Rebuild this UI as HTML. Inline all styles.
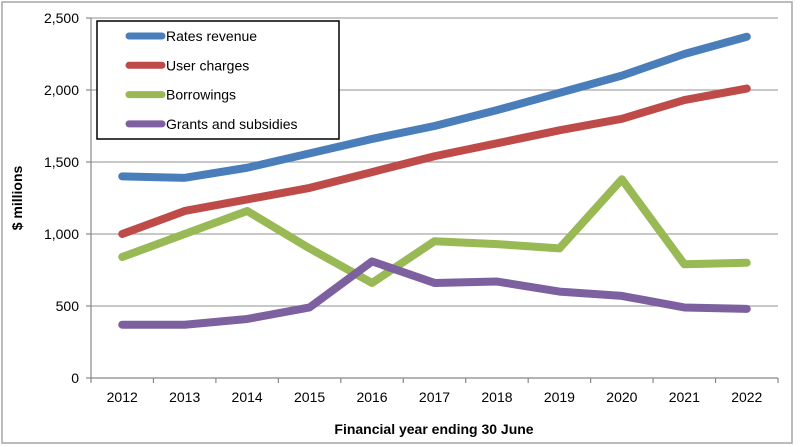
<!DOCTYPE html>
<html><head><meta charset="utf-8"><style>
html,body{margin:0;padding:0;background:#fff;}
svg{display:block;font-family:"Liberation Sans",Arial,sans-serif;}
</style></head><body>
<svg id="chart" width="800" height="447" viewBox="0 0 800 447">
<rect x="2" y="2" width="790" height="441" fill="#fff" stroke="#a6a6a6" stroke-width="1.5"/>
<g id="grid"></g>
<g id="axes"></g>
<g id="series"></g>
<text x="22" y="198" transform="rotate(-90 22 198)" text-anchor="middle" font-size="14" font-weight="bold" fill="#000">$ millions</text>
<text x="434" y="434" text-anchor="middle" font-size="14" font-weight="bold" fill="#000">Financial year ending 30 June</text>
<g id="legend"></g>
</svg>
<script>
const years = ["2012","2013","2014","2015","2016","2017","2018","2019","2020","2021","2022"];
const yTicks = [0,500,1000,1500,2000,2500];
const yTickLabels = ["0","500","1,000","1,500","2,000","2,500"];
const seriesNames = ["Rates revenue","User charges","Borrowings","Grants and subsidies"];
const seriesColors = ["#4a7ebb","#be4b48","#98b954","#7d60a0"];
const ratesRevenue = [1400,1390,1460,1560,1660,1750,1860,1980,2100,2250,2370];
const userCharges = [1000,1160,1240,1320,1430,1540,1630,1720,1800,1930,2010];
const borrowings = [840,1000,1160,900,660,950,930,900,1380,790,800];
const grants = [370,370,410,490,810,660,670,600,570,490,480];
const seriesData = [ratesRevenue,userCharges,borrowings,grants];

const NS="http://www.w3.org/2000/svg";
const L=91,R=778,T=18,B=378,MAX=2500;
const step=(R-L)/years.length;
const xOf=i=>L+step*(i+0.5);
const yOf=v=>B-(v/MAX)*(B-T);
function mk(tag,attrs,parent){const e=document.createElementNS(NS,tag);for(const k in attrs)e.setAttribute(k,attrs[k]);parent.appendChild(e);return e;}
const grid=document.getElementById('grid'),axes=document.getElementById('axes'),ser=document.getElementById('series'),leg=document.getElementById('legend');
yTicks.forEach((v,i)=>{
  const y=yOf(v);
  if(v>0){const g=mk('line',{x1:L,x2:R,y1:y,y2:y,stroke:'#a6a6a6','stroke-width':1.2},grid);
  
  }
  const tk=mk('line',{x1:L-5,x2:L,y1:y,y2:y,stroke:'#888','stroke-width':1.2},axes);
  
  
  const t=mk('text',{x:L-12,y:y+5,'text-anchor':'end','font-size':14,fill:'#000'},axes);
  t.textContent=yTickLabels[i];
  
  
});
const ya=mk('line',{x1:L,x2:L,y1:T,y2:B,stroke:'#888','stroke-width':1.2},axes);


const xa=mk('line',{x1:L,x2:R,y1:B,y2:B,stroke:'#888','stroke-width':1.2},axes);


for(let i=0;i<=years.length;i++){
  const x=L+step*i;
  const tk=mk('line',{x1:x,x2:x,y1:B,y2:B+5,stroke:'#888','stroke-width':1.2},axes);
  
  
}
years.forEach((yr,i)=>{
  const t=mk('text',{x:xOf(i),y:B+24,'text-anchor':'middle','font-size':14,fill:'#000'},axes);
  t.textContent=yr;
  
  
});
seriesData.forEach((d,s)=>{
  const pts=d.map((v,i)=>xOf(i)+','+yOf(v)).join(' ');
  const p=mk('polyline',{points:pts,fill:'none',stroke:seriesColors[s],'stroke-width':8,'stroke-linecap':'round','stroke-linejoin':'round'},ser);
  
  
});
const lb=mk('rect',{x:97,y:21,width:242,height:118,fill:'#fff',stroke:'#000','stroke-width':1.5},leg);


seriesNames.forEach((n,s)=>{
  const y=36+s*29.3;
  const g=mk('g',{},leg);
  
  
  mk('line',{x1:129,x2:162,y1:y,y2:y,stroke:seriesColors[s],'stroke-width':7,'stroke-linecap':'round'},g);
  const t=mk('text',{x:166,y:y+5,'font-size':14,fill:'#000'},g);
  t.textContent=n;
});
</script>
</body></html>
